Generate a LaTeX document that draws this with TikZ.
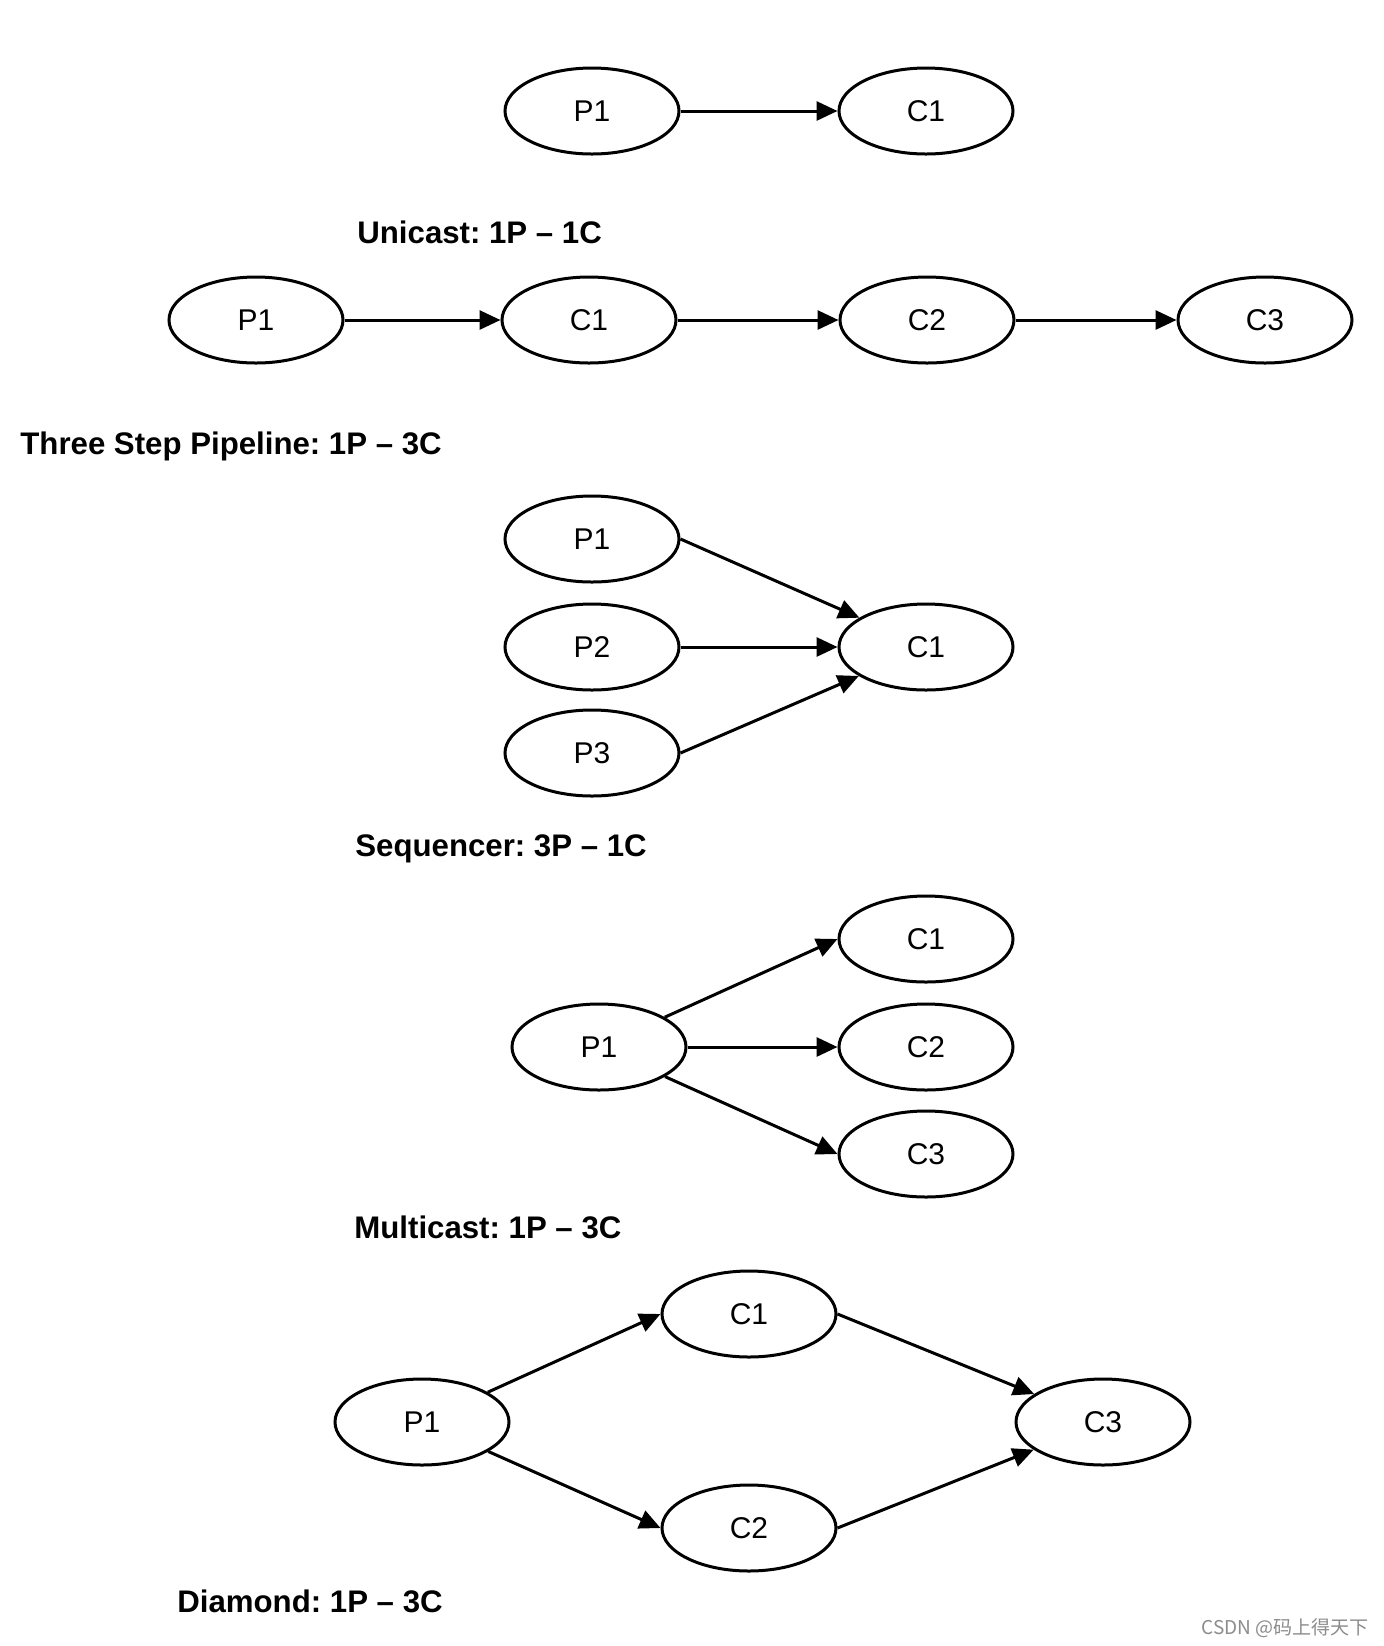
\documentclass[tikz,border=0pt]{standalone}
\usepackage{fontspec}
\setmainfont{Liberation Sans}
\newfontfamily\cjkwm{Noto Sans CJK SC}
\usetikzlibrary{shapes.geometric,arrows.meta}
\frenchspacing
\begin{document}
\begin{tikzpicture}[x=0.5pt,y=-0.5pt,
  ell/.style={draw, ellipse, line width=1.5pt, minimum width=87pt, minimum height=43pt, inner sep=0pt, font=\fontsize{15}{17}\selectfont},
  arr/.style={line width=1.5pt, -{Triangle[length=10.5pt,width=9.5pt]}},
  titlelabel/.style={anchor=base west, inner sep=0pt, font=\fontsize{15.6}{18}\selectfont\bfseries},
  wm/.style={anchor=base east, inner sep=0pt, text=black!45, font=\cjkwm\fontsize{9.5}{11}\selectfont}]
\useasboundingbox[fill=white] (0,0) rectangle (1384,1646);
% Unicast
\node[ell] (uP1) at (592,111) {P1};
\node[ell] (uC1) at (926,111) {C1};
\draw[arr] (uP1) -- (uC1);
\node[titlelabel] (uL) at (357,243) {Unicast: 1P -- 1C};
% Pipeline
\node[ell] (pP1) at (256,320) {P1};
\node[ell] (pC1) at (589,320) {C1};
\node[ell] (pC2) at (927,320) {C2};
\node[ell] (pC3) at (1265,320) {C3};
\draw[arr] (pP1) -- (pC1);
\draw[arr] (pC1) -- (pC2);
\draw[arr] (pC2) -- (pC3);
\node[titlelabel] (pL) at (20,454) {Three Step Pipeline: 1P -- 3C};
% Sequencer
\node[ell] (sP1) at (592,539) {P1};
\node[ell] (sP2) at (592,647) {P2};
\node[ell] (sP3) at (592,753) {P3};
\node[ell] (sC1) at (926,647) {C1};
\draw[arr] (sP1.east) -- (sC1);
\draw[arr] (sP2) -- (sC1);
\draw[arr] (sP3.east) -- (sC1);
\node[titlelabel] (sL) at (355,856) {Sequencer: 3P -- 1C};
% Multicast
\node[ell] (mC1) at (926,939) {C1};
\node[ell] (mC2) at (926,1047) {C2};
\node[ell] (mC3) at (926,1154) {C3};
\node[ell] (mP1) at (599,1047) {P1};
\draw[arr] (mP1) -- (mC1.west);
\draw[arr] (mP1) -- (mC2);
\draw[arr] (mP1) -- (mC3.west);
\node[titlelabel] (mL) at (354,1238) {Multicast: 1P -- 3C};
% Diamond
\node[ell] (dP1) at (422,1422) {P1};
\node[ell] (dC1) at (749,1314) {C1};
\node[ell] (dC2) at (749,1528) {C2};
\node[ell] (dC3) at (1103,1422) {C3};
\draw[arr] (dP1) -- (dC1.west);
\draw[arr] (dP1) -- (dC2.west);
\draw[arr] (dC1.east) -- (dC3);
\draw[arr] (dC2.east) -- (dC3);
\node[titlelabel] (dL) at (177,1612) {Diamond: 1P -- 3C};
% watermark
\node[wm] (wmk) at (1369,1634) {CSDN @码上得天下};
\end{tikzpicture}
\end{document}
